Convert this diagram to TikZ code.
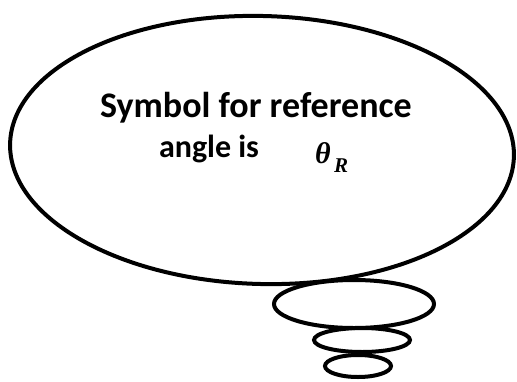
\documentclass[tikz,border=0pt]{standalone}
\usepackage{fontspec}
\setmainfont{Carlito}
\newfontfamily\mathlike{Liberation Serif}
\begin{document}
\begin{tikzpicture}[x=1pt,y=-1pt,
  bubble/.style={draw=black,line width=4pt},
  txt/.style={font=\bfseries,text=black,inner sep=0pt,anchor=base}]
\useasboundingbox (0,0) rectangle (517,381);
\draw[bubble,rotate around={-1.5:(262,150)}] (262,150) ellipse [x radius=252, y radius=134];
\draw[bubble] (354,304) ellipse [x radius=80, y radius=24];
\draw[bubble] (362,340) ellipse [x radius=48, y radius=12];
\draw[bubble] (358,366) ellipse [x radius=33, y radius=11];
\node[txt,font=\fontsize{36}{38}\selectfont\bfseries] (l1) at (256,117) {Symbol for reference};
\node[txt,font=\fontsize{32}{34}\selectfont\bfseries] (l2) at (209,157) {angle is};
\node[txt,anchor=base west,font=\mathlike\fontsize{30}{31}\selectfont\bfseries\itshape] (th) at (315,163) {θ};
\node[txt,anchor=base west,font=\mathlike\fontsize{21}{22}\selectfont\bfseries\itshape] (sub) at (334,172) {R};
\end{tikzpicture}
\end{document}
